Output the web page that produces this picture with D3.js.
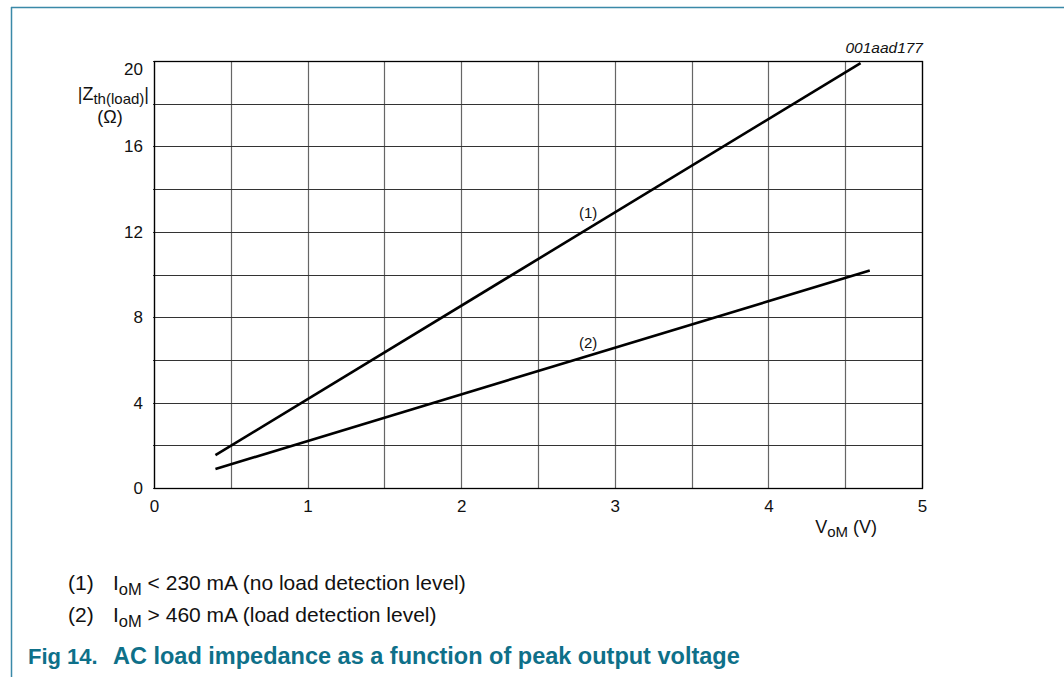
<!DOCTYPE html>
<html><head><meta charset="utf-8">
<script src="https://cdn.jsdelivr.net/npm/d3@7"></script>
<style>
body{margin:0;background:#fff;}
svg{display:block;font-family:"Liberation Sans",Arial,sans-serif;}
</style></head>
<body><svg id="c" width="1064" height="677"></svg>
<script>
const xTicks = [0,1,2,3,4,5];
const yTicks = [0,4,8,12,16,20];
const xGrid = [0,0.5,1,1.5,2,2.5,3,3.5,4,4.5,5];
const yGrid = [0,2,4,6,8,10,12,14,16,18,20];
const series1 = [[0.40,1.54],[4.60,19.9]];
const series2 = [[0.40,0.89],[4.66,10.19]];
const curveLabels = ["(1)","(2)"];
const curveLabelPos = [[2.826,12.65],[2.826,6.56]];
const legendItems = [["(1)","< 230 mA (no load detection level)"],["(2)","> 460 mA (load detection level)"]];
const captionNum = "Fig 14.";
const captionText = "AC load impedance as a function of peak output voltage";
const code = "001aad177";

const svg = d3.select("#c");
const F = "Liberation Sans, Arial, sans-serif";
// frame lines
svg.append("line").attr("x1",11).attr("x2",1064).attr("y1",7.5).attr("y2",7.5).attr("stroke","#3a89a8").attr("stroke-width",1.5);
svg.append("line").attr("x1",11.5).attr("x2",11.5).attr("y1",7).attr("y2",677).attr("stroke","#3a89a8").attr("stroke-width",1.5);

const x = d3.scaleLinear().domain([0,5]).range([154,922]);
const y = d3.scaleLinear().domain([0,20]).range([488,61]);
const g = svg.append("g");
g.selectAll(".vg").data(xGrid).join("line")
  .attr("x1",d=>Math.round(x(d))+0.5).attr("x2",d=>Math.round(x(d))+0.5)
  .attr("y1",y(20)).attr("y2",y(0)).attr("stroke","#666").attr("stroke-width",1.2);
g.selectAll(".hg").data(yGrid).join("line")
  .attr("y1",d=>Math.round(y(d))+0.5).attr("y2",d=>Math.round(y(d))+0.5)
  .attr("x1",x(0)-1).attr("x2",x(5)).attr("stroke","#333").attr("stroke-width",1.1);
g.append("rect").attr("x",Math.round(x(0))+0.5).attr("y",Math.round(y(20))+0.5)
  .attr("width",Math.round(x(5))-Math.round(x(0))).attr("height",Math.round(y(0))-Math.round(y(20)))
  .attr("fill","none").attr("stroke","#000").attr("stroke-width",1.3);

// axes tick labels
const xa = d3.axisBottom(x).tickValues(xTicks).tickSize(0).tickPadding(12).tickFormat(d3.format("d"));
const xg = svg.append("g").attr("transform",`translate(0,${y(0)})`).call(xa);
xg.select(".domain").remove();
xg.selectAll("text").attr("font-size",17).attr("fill","#111").attr("font-family",F);
const ya = d3.axisLeft(y).tickValues(yTicks).tickSize(0).tickPadding(11).tickFormat(d3.format("d"));
const yg = svg.append("g").attr("transform",`translate(${x(0)},0)`).call(ya);
yg.select(".domain").remove();
yg.selectAll("text").attr("font-size",17).attr("fill","#111").attr("font-family",F)
  .attr("dy",d=>d===20?"0.8em":"0.32em");

// lines
const line = d3.line().x(d=>x(d[0])).y(d=>y(d[1]));
[series1,series2].forEach(s=>{
  svg.append("path").attr("d",line(s)).attr("fill","none").attr("stroke","#000").attr("stroke-width",2.6);
});
curveLabels.forEach((t,i)=>{
  svg.append("text").attr("x",x(curveLabelPos[i][0])).attr("y",y(curveLabelPos[i][1]))
    .attr("text-anchor","middle").attr("font-size",15).attr("fill","#111").text(t);
});

// y-axis label
const yl = svg.append("text").attr("x",149).attr("y",100).attr("text-anchor","end").attr("font-size",18).attr("fill","#111");
yl.append("tspan").text("|Z");
yl.append("tspan").attr("dy",4).attr("font-size",15).text("th(load)");
yl.append("tspan").attr("dy",-4).text("|");
svg.append("text").attr("x",110).attr("y",123).attr("text-anchor","middle").attr("font-size",18).attr("fill","#111").text("(Ω)");

// x-axis label
const xl = svg.append("text").attr("x",877).attr("y",533).attr("text-anchor","end").attr("font-size",18).attr("fill","#111");
xl.append("tspan").text("V");
xl.append("tspan").attr("dy",4).attr("font-size",15).text("oM");
xl.append("tspan").attr("dy",-4).text(" (V)");

// code
svg.append("text").attr("x",923).attr("y",53).attr("text-anchor","end").attr("font-size",15.5).attr("font-style","italic").attr("fill","#111").text(code);

// legend
legendItems.forEach((it,i)=>{
  const yy = 590 + i*32;
  svg.append("text").attr("x",68).attr("y",yy).attr("font-size",21).attr("fill","#111").text(it[0]);
  const t = svg.append("text").attr("x",113).attr("y",yy).attr("font-size",21).attr("fill","#111");
  t.append("tspan").text("I");
  t.append("tspan").attr("dy",5).attr("font-size",16.5).text("oM");
  t.append("tspan").attr("dy",-5).text(" " + it[1]);
});

// caption
svg.append("text").attr("x",28).attr("y",664).attr("font-size",22).attr("font-weight","bold").attr("fill","#0e7089").text(captionNum);
svg.append("text").attr("x",113).attr("y",664).attr("font-size",23.5).attr("font-weight","bold").attr("fill","#0e7089").text(captionText);
</script></body></html>
